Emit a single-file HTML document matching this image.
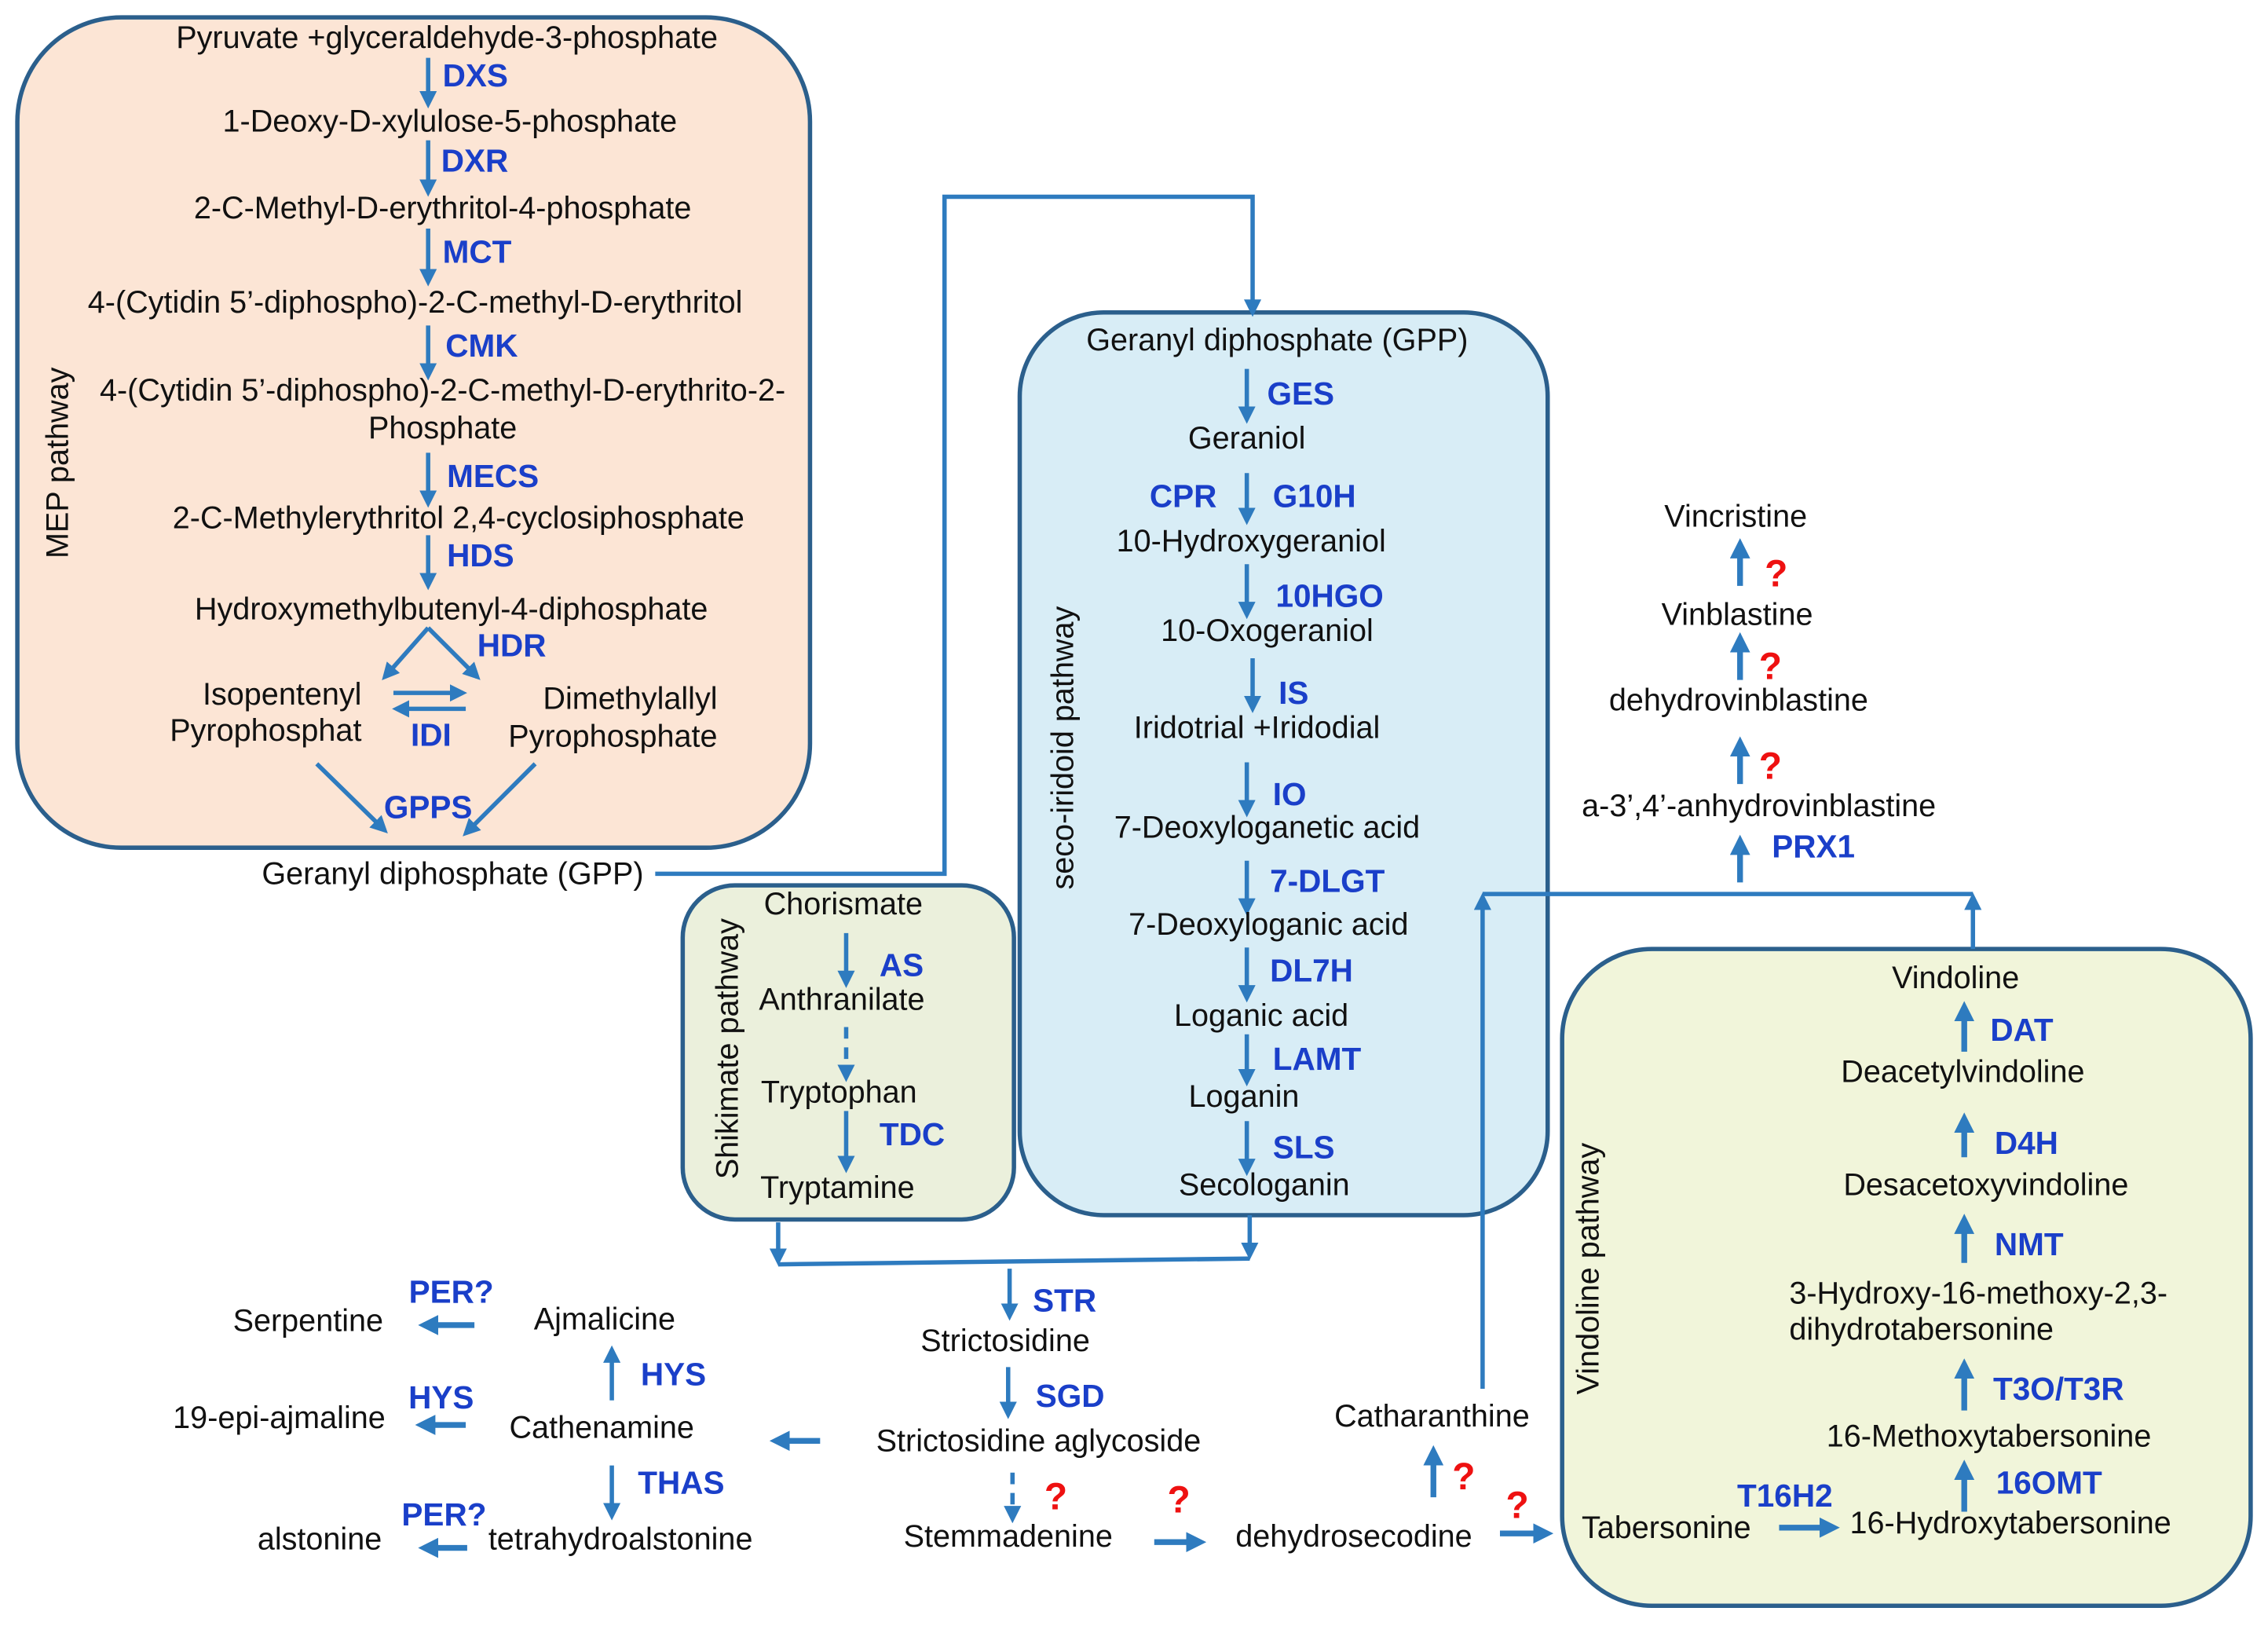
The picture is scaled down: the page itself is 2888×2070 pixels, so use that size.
<!DOCTYPE html>
<html><head><meta charset="utf-8"><style>
html,body{margin:0;padding:0;background:#fff;}
svg{display:block;}
text{font-family:"Liberation Sans",Arial,sans-serif;font-size:21.5px;fill:#111;dominant-baseline:central;}
.c{text-anchor:middle;}
.e{fill:#1a3fc9;font-weight:bold;font-size:22px;}
.q{fill:#ee1111;font-size:26px;font-weight:bold;}
.ln{stroke:#2e7bbf;stroke-width:3;fill:none;}
.ar{stroke:#2e7bbf;stroke-width:3;fill:none;marker-end:url(#ah);}
.ar2{stroke:#2e7bbf;stroke-width:4;fill:none;marker-end:url(#ah2);}
.da{stroke:#2e7bbf;stroke-width:3;fill:none;stroke-dasharray:8 6;marker-end:url(#ah);}
</style></head><body>
<svg width="2888" height="2070" viewBox="0 0 1568 1124" preserveAspectRatio="none" xmlns="http://www.w3.org/2000/svg">
<defs>
<marker id="ah" markerWidth="4" markerHeight="4" refX="3" refY="2" orient="auto" markerUnits="strokeWidth"><path d="M0,0 L4,2 L0,4 z" fill="#2e7bbf"/></marker>
<marker id="ah2" markerWidth="3.5" markerHeight="3.5" refX="2.5" refY="1.75" orient="auto" markerUnits="strokeWidth"><path d="M0,0 L3.5,1.75 L0,3.5 z" fill="#2e7bbf"/></marker>
</defs>
<rect x="12" y="12" width="548" height="574" rx="72" fill="#fce5d5" stroke="#2b5f8c" stroke-width="3"/>
<rect x="705" y="216" width="365" height="624" rx="58" fill="#d8edf6" stroke="#2b5f8c" stroke-width="3"/>
<rect x="472" y="612" width="229" height="231" rx="36" fill="#ebf0dc" stroke="#2b5f8c" stroke-width="3"/>
<rect x="1080" y="656" width="476" height="454" rx="62" fill="#f1f5da" stroke="#2b5f8c" stroke-width="3"/>

<!-- MEP -->
<text class="c" x="309" y="26">Pyruvate +glyceraldehyde-3-phosphate</text>
<path class="ar" d="M296,40 V72"/><text class="e" x="306" y="52">DXS</text>
<text class="c" x="311" y="84">1-Deoxy-D-xylulose-5-phosphate</text>
<path class="ar" d="M296,97 V133"/><text class="e" x="305" y="111">DXR</text>
<text class="c" x="306" y="144">2-C-Methyl-D-erythritol-4-phosphate</text>
<path class="ar" d="M296,158 V195"/><text class="e" x="306" y="174">MCT</text>
<text class="c" x="287" y="209">4-(Cytidin 5’-diphospho)-2-C-methyl-D-erythritol</text>
<path class="ar" d="M296,225 V260"/><text class="e" x="308" y="239">CMK</text>
<text class="c" x="306" y="270">4-(Cytidin 5’-diphospho)-2-C-methyl-D-erythrito-2-</text>
<text class="c" x="306" y="296">Phosphate</text>
<path class="ar" d="M296,313 V348"/><text class="e" x="309" y="329">MECS</text>
<text class="c" x="317" y="358">2-C-Methylerythritol 2,4-cyclosiphosphate</text>
<path class="ar" d="M296,370 V405"/><text class="e" x="309" y="384">HDS</text>
<text class="c" x="312" y="421">Hydroxymethylbutenyl-4-diphosphate</text>
<path class="ar" d="M296,434 L266,468"/><path class="ar" d="M296,434 L330,468"/>
<text class="e" x="330" y="446">HDR</text>
<text x="250" y="480" text-anchor="end">Isopentenyl</text>
<text x="250" y="505" text-anchor="end">Pyrophosphat</text>
<text x="496" y="483" text-anchor="end">Dimethylallyl</text>
<text x="496" y="509" text-anchor="end">Pyrophosphate</text>
<path class="ar" d="M272,479 H320"/><path class="ar" d="M322,490 H274"/>
<text class="e c" x="298" y="508">IDI</text>
<path class="ar" d="M219,528 L266,574"/><path class="ar" d="M370,528 L322,576"/>
<text class="e c" x="296" y="558">GPPS</text>
<text x="40" y="320" class="c" transform="rotate(-90 40 320)">MEP pathway</text>
<text class="c" x="313" y="604">Geranyl diphosphate (GPP)</text>
<path class="ar" d="M453,604 H653 V136 H866 V216"/>

<!-- seco-iridoid -->
<text class="c" x="883" y="235">Geranyl diphosphate (GPP)</text>
<path class="ar" d="M862,255 V290"/><text class="e" x="876" y="272">GES</text>
<text class="c" x="862" y="303">Geraniol</text>
<path class="ar" d="M862,327 V360"/><text class="e c" x="818" y="343">CPR</text><text class="e" x="880" y="343">G10H</text>
<text class="c" x="865" y="374">10-Hydroxygeraniol</text>
<path class="ar" d="M862,390 V425"/><text class="e" x="882" y="412">10HGO</text>
<text class="c" x="876" y="436">10-Oxogeraniol</text>
<path class="ar" d="M866,455 V490"/><text class="e" x="884" y="479">IS</text>
<text class="c" x="869" y="503">Iridotrial +Iridodial</text>
<path class="ar" d="M862,527 V562"/><text class="e" x="880" y="549">IO</text>
<text class="c" x="876" y="572">7-Deoxyloganetic acid</text>
<path class="ar" d="M862,595 V630"/><text class="e" x="878" y="609">7-DLGT</text>
<text class="c" x="877" y="639">7-Deoxyloganic acid</text>
<path class="ar" d="M862,655 V690"/><text class="e" x="878" y="671">DL7H</text>
<text class="c" x="872" y="702">Loganic acid</text>
<path class="ar" d="M862,715 V748"/><text class="e" x="880" y="732">LAMT</text>
<text class="c" x="860" y="758">Loganin</text>
<path class="ar" d="M862,775 V810"/><text class="e" x="880" y="793">SLS</text>
<text class="c" x="874" y="819">Secologanin</text>
<text x="735" y="517" class="c" transform="rotate(-90 735 517)">seco-iridoid pathway</text>

<!-- shikimate -->
<text class="c" x="583" y="625">Chorismate</text>
<path class="ar" d="M585,645 V680"/><text class="e" x="608" y="667">AS</text>
<text class="c" x="582" y="691">Anthranilate</text>
<path class="da" d="M585,710 V745"/>
<text class="c" x="580" y="755">Tryptophan</text>
<path class="ar" d="M585,768 V808"/><text class="e" x="608" y="784">TDC</text>
<text class="c" x="579" y="821">Tryptamine</text>
<text x="503" y="725" class="c" transform="rotate(-90 503 725)">Shikimate pathway</text>

<!-- merge -->
<path class="ar" d="M538,845 V872"/><path class="ar" d="M864,840 V868"/>
<path class="ln" d="M538,874 L864,870"/>
<path class="ar" d="M698,877 V910"/><text class="e" x="714" y="899">STR</text>
<text class="c" x="695" y="927">Strictosidine</text>
<path class="ar" d="M697,945 V978"/><text class="e" x="716" y="965">SGD</text>
<text class="c" x="718" y="996">Strictosidine aglycoside</text>
<path class="ar2" d="M567,996 H536"/>
<path class="da" d="M700,1018 V1050"/><text class="q c" x="730" y="1035">?</text>
<text class="c" x="697" y="1062">Stemmadenine</text>
<path class="ar2" d="M798,1066 H830"/><text class="q c" x="815" y="1037">?</text>
<text class="c" x="936" y="1062">dehydrosecodine</text>
<path class="ar2" d="M1037,1060 H1070"/><text class="q c" x="1049" y="1041">?</text>
<path class="ar2" d="M991,1035 V1003"/><text class="q c" x="1012" y="1021">?</text>
<text class="c" x="990" y="979">Catharanthine</text>
<path class="ar" d="M1025,960 V620"/>
<path class="ln" d="M1025,618 H1364"/>
<path class="ar" d="M1364,656 V620"/>

<!-- vinblastine -->
<path class="ar2" d="M1203,610 V581"/><text class="e" x="1225" y="585">PRX1</text>
<text class="c" x="1216" y="557">a-3’,4’-anhydrovinblastine</text>
<path class="ar2" d="M1203,542 V513"/><text class="q c" x="1224" y="530">?</text>
<text class="c" x="1202" y="484">dehydrovinblastine</text>
<path class="ar2" d="M1203,470 V441"/><text class="q c" x="1224" y="461">?</text>
<text class="c" x="1201" y="425">Vinblastine</text>
<path class="ar2" d="M1203,405 V376"/><text class="q c" x="1228" y="397">?</text>
<text class="c" x="1200" y="357">Vincristine</text>

<!-- left bottom -->
<text class="c" x="418" y="912">Ajmalicine</text>
<text class="c" x="213" y="913">Serpentine</text>
<path class="ar2" d="M328,916 H293"/><text class="e c" x="312" y="893">PER?</text>
<path class="ar" d="M423,968 V933"/><text class="e" x="443" y="950">HYS</text>
<text class="c" x="416" y="987">Cathenamine</text>
<text class="c" x="193" y="980">19-epi-ajmaline</text>
<path class="ar2" d="M322,985 H291"/><text class="e c" x="305" y="966">HYS</text>
<path class="ar" d="M423,1013 V1048"/><text class="e" x="441" y="1025">THAS</text>
<text class="c" x="429" y="1064">tetrahydroalstonine</text>
<text class="c" x="221" y="1064">alstonine</text>
<path class="ar2" d="M323,1070 H293"/><text class="e c" x="307" y="1047">PER?</text>

<!-- vindoline -->
<text class="c" x="1352" y="676">Vindoline</text>
<path class="ar2" d="M1358,727 V696"/><text class="e" x="1376" y="712">DAT</text>
<text class="c" x="1357" y="741">Deacetylvindoline</text>
<path class="ar2" d="M1358,800 V773"/><text class="e" x="1379" y="790">D4H</text>
<text class="c" x="1373" y="819">Desacetoxyvindoline</text>
<path class="ar2" d="M1358,873 V843"/><text class="e" x="1379" y="860">NMT</text>
<text x="1237" y="894">3-Hydroxy-16-methoxy-2,3-</text>
<text x="1237" y="919">dihydrotabersonine</text>
<path class="ar2" d="M1358,975 V943"/><text class="e" x="1378" y="960">T3O/T3R</text>
<text class="c" x="1375" y="993">16-Methoxytabersonine</text>
<path class="ar2" d="M1358,1045 V1013"/><text class="e" x="1380" y="1025">16OMT</text>
<text class="c" x="1390" y="1053">16-Hydroxytabersonine</text>
<text class="c" x="1152" y="1056">Tabersonine</text>
<path class="ar2" d="M1230,1056 H1268"/><text class="e c" x="1234" y="1034">T16H2</text>
<text x="1098" y="877" class="c" transform="rotate(-90 1098 877)">Vindoline pathway</text>
</svg>
</body></html>
